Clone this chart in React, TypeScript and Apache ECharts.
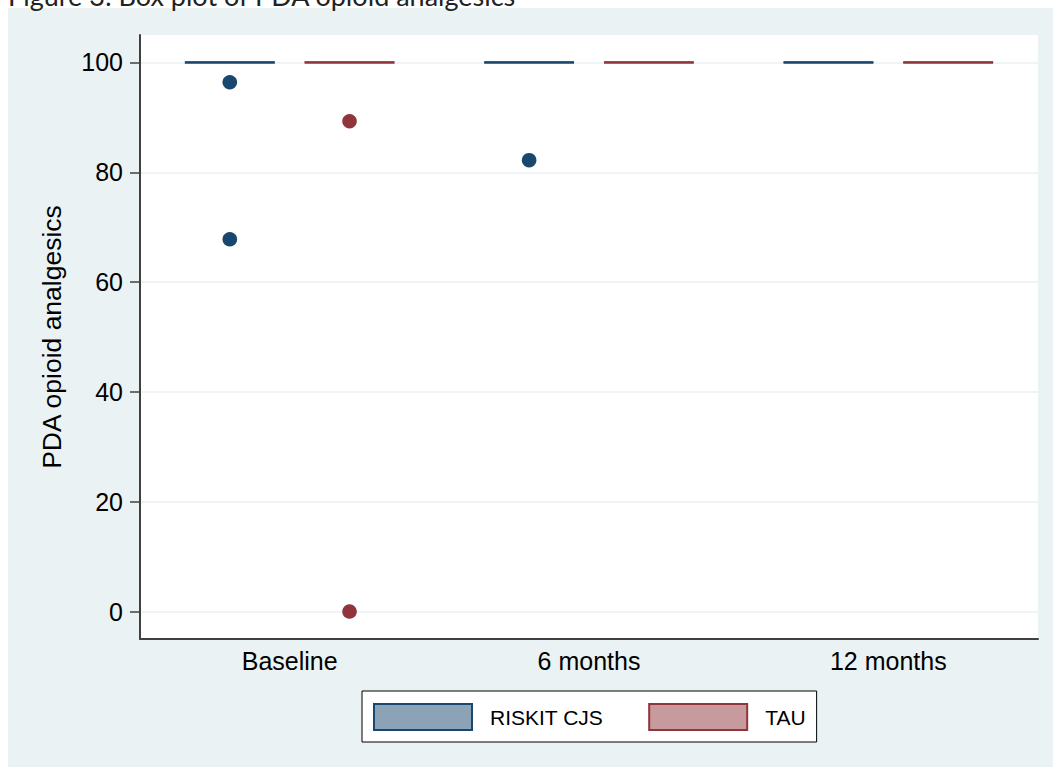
import React, { useEffect, useRef } from "react";
import * as echarts from "echarts";

const categories = ["Baseline", "6 months", "12 months"];
// [categoryIndex, lowerWhisker, q1, median, q3, upperWhisker]
const riskitBoxes = [
  [0, 100, 100, 100, 100, 100],
  [1, 100, 100, 100, 100, 100],
  [2, 100, 100, 100, 100, 100],
];
const tauBoxes = [
  [0, 100, 100, 100, 100, 100],
  [1, 100, 100, 100, 100, 100],
  [2, 100, 100, 100, 100, 100],
];
// [categoryIndex, value]
const riskitOutliers = [
  [0, 96.4],
  [0, 67.8],
  [1, 82.2],
];
const tauOutliers = [
  [0, 89.3],
  [0, 0],
];
const yTicks = [0, 20, 40, 60, 80, 100];

const NAVY = "#1a476f";
const NAVY_FILL = "#8ca3b7";
const MAROON = "#90353b";
const MAROON_FILL = "#c79a9d";
const FONT = "'Liberation Sans', Arial, Helvetica, sans-serif";

function boxRenderer(offsetFrac: number, stroke: string, fill: string) {
  return (params: any, api: any) => {
    const cat = api.value(0);
    const band = api.size([1, 0])[0];
    const w = band * 0.3;
    const dx = band * offsetFrac;
    const pLo = api.coord([cat, api.value(1)]);
    const pQ1 = api.coord([cat, api.value(2)]);
    const pMed = api.coord([cat, api.value(3)]);
    const pQ3 = api.coord([cat, api.value(4)]);
    const pHi = api.coord([cat, api.value(5)]);
    const x = pMed[0] + dx;
    const children: any[] = [];
    if (pLo[1] - pQ1[1] > 0.5) {
      children.push({
        type: "line",
        shape: { x1: x, y1: pQ1[1], x2: x, y2: pLo[1] },
        style: { stroke, lineWidth: 2 },
      });
    }
    if (pQ3[1] - pHi[1] > 0.5) {
      children.push({
        type: "line",
        shape: { x1: x, y1: pHi[1], x2: x, y2: pQ3[1] },
        style: { stroke, lineWidth: 2 },
      });
    }
    children.push({
      type: "rect",
      shape: { x: x - w / 2, y: pQ3[1], width: w, height: pQ1[1] - pQ3[1] },
      style: { fill, stroke, lineWidth: 2 },
    });
    children.push({
      type: "line",
      shape: { x1: x - w / 2, y1: pMed[1], x2: x + w / 2, y2: pMed[1] },
      style: { stroke, lineWidth: 2.2 },
    });
    return { type: "group", children };
  };
}

function outlierRenderer(offsetFrac: number, color: string) {
  return (params: any, api: any) => {
    const cat = api.value(0);
    const band = api.size([1, 0])[0];
    const p = api.coord([cat, api.value(1)]);
    return {
      type: "circle",
      shape: { cx: p[0] + band * offsetFrac, cy: p[1], r: 7.3 },
      style: { fill: color },
    };
  };
}

export default function App() {
  const ref = useRef<HTMLDivElement>(null);
  useEffect(() => {
    document.body.style.margin = "0";
    const chart = echarts.init(ref.current!, null, { renderer: "svg" });
    const option: any = {
      animation: false,
      backgroundColor: "#ffffff",
      textStyle: { fontFamily: FONT },
      graphic: [
        {
          type: "rect",
          z: -1,
          silent: true,
          shape: { x: 8, y: 8, width: 1045, height: 759 },
          style: { fill: "#eaf2f3" },
        },
        {
          type: "text",
          z: 10,
          x: 8,
          y: 9,
          style: {
            text: "Figure 3: Box plot of PDA opioid analgesics",
            font: "27px Lato, 'Open Sans', sans-serif",
            fill: "#222",
            verticalAlign: "bottom",
            align: "left",
          },
        },
      ],
      grid: {
        left: 140,
        top: 35,
        width: 898,
        height: 604,
        show: true,
        backgroundColor: "#ffffff",
        borderWidth: 0,
        containLabel: false,
      },
      legend: {
        left: 362,
        top: 691,
        padding: [12, 11, 11, 11],
        itemGap: 45,
        itemWidth: 98,
        itemHeight: 26,
        borderColor: "#000",
        borderWidth: 1,
        backgroundColor: "#ffffff",
        selectedMode: false,
        textStyle: {
          fontSize: 21,
          color: "#000",
          fontFamily: FONT,
          padding: [0, 0, 0, 13],
        },
        data: [
          {
            name: "RISKIT CJS",
            icon: "rect",
            itemStyle: { color: NAVY_FILL, borderColor: NAVY, borderWidth: 2 },
          },
          {
            name: "TAU",
            icon: "rect",
            itemStyle: { color: MAROON_FILL, borderColor: MAROON, borderWidth: 2 },
          },
        ],
      },
      xAxis: {
        type: "category",
        data: categories,
        boundaryGap: true,
        axisLine: { show: true, onZero: false, lineStyle: { color: "#404040", width: 2 } },
        axisTick: { show: false },
        splitLine: { show: false },
        axisLabel: {
          fontSize: 25,
          color: "#000",
          margin: 9,
          fontFamily: FONT,
        },
      },
      yAxis: {
        type: "value",
        min: -5,
        max: 105,
        name: "PDA opioid analgesics",
        nameLocation: "middle",
        nameGap: 75,
        nameTextStyle: {
          fontSize: 26.5,
          color: "#000",
          fontFamily: FONT,
        },
        axisLine: { show: true, onZero: false, lineStyle: { color: "#404040", width: 2 } },
        axisTick: {
          show: true,
          length: 10,
          customValues: yTicks,
          lineStyle: { color: "#404040", width: 1.5 },
        },
        axisLabel: {
          fontSize: 25,
          color: "#000",
          margin: 17,
          customValues: yTicks,
          fontFamily: FONT,
        },
        splitLine: {
          show: true,
          customValues: yTicks,
          lineStyle: { color: "#eaf2f3", width: 1.5 },
        },
      },
      series: [
        {
          name: "RISKIT CJS",
          type: "custom",
          renderItem: boxRenderer(-0.2, NAVY, NAVY_FILL),
          encode: { x: 0, y: [1, 2, 3, 4, 5] },
          data: riskitBoxes,
          itemStyle: { color: NAVY_FILL, borderColor: NAVY },
          z: 3,
        },
        {
          name: "TAU",
          type: "custom",
          renderItem: boxRenderer(0.2, MAROON, MAROON_FILL),
          encode: { x: 0, y: [1, 2, 3, 4, 5] },
          data: tauBoxes,
          itemStyle: { color: MAROON_FILL, borderColor: MAROON },
          z: 3,
        },
        {
          name: "RISKIT CJS",
          type: "custom",
          renderItem: outlierRenderer(-0.2, NAVY),
          encode: { x: 0, y: 1 },
          data: riskitOutliers,
          z: 4,
        },
        {
          name: "TAU",
          type: "custom",
          renderItem: outlierRenderer(0.2, MAROON),
          encode: { x: 0, y: 1 },
          data: tauOutliers,
          z: 4,
        },
      ],
    };
    chart.setOption(option);
    return () => chart.dispose();
  }, []);
  return <div ref={ref} style={{ width: 1053, height: 767 }} />;
}
